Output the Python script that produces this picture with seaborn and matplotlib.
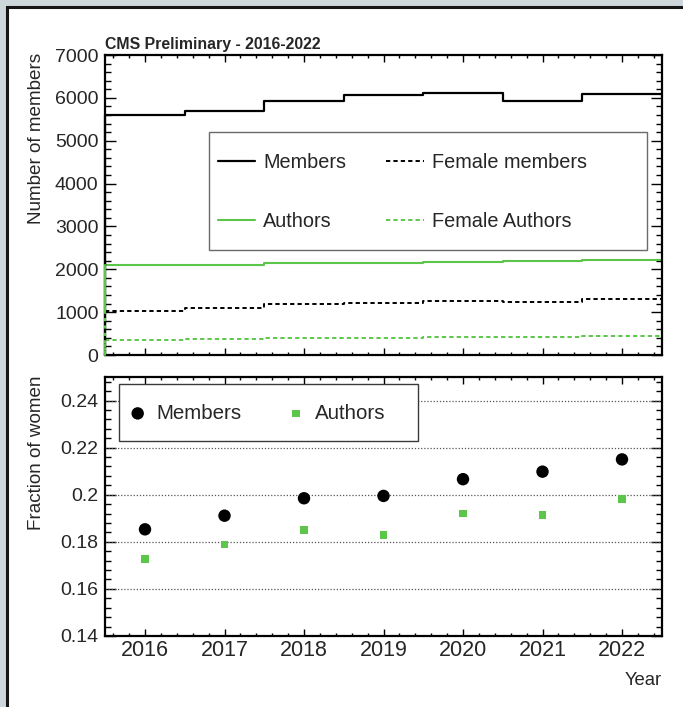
import matplotlib
matplotlib.use("Agg")
import matplotlib.pyplot as plt
import seaborn as sns
from matplotlib.patches import Rectangle
from matplotlib.ticker import MultipleLocator, FuncFormatter

# ---- data -------------------------------------------------------------
years = [2016, 2017, 2018, 2019, 2020, 2021, 2022]
year_edges = [2015.5, 2016.5, 2017.5, 2018.5, 2019.5, 2020.5, 2021.5, 2022.5]

members = [5600, 5700, 5930, 6070, 6120, 5930, 6080]
authors = [2100, 2090, 2140, 2140, 2165, 2190, 2215]
female_members = [1035, 1090, 1180, 1210, 1260, 1245, 1305]
female_authors = [360, 375, 395, 390, 415, 418, 440]

frac_members = [0.1853, 0.1911, 0.1985, 0.1995, 0.2066, 0.2098, 0.2150]
frac_authors = [0.1726, 0.1789, 0.1850, 0.1830, 0.1921, 0.1913, 0.1982]

year_labels = ["2016", "2017", "2018", "2019", "2020", "2021", "2022"]

# ---- style ------------------------------------------------------------
sns.set_style("ticks")
plt.rcParams["font.family"] = ["Liberation Sans", "DejaVu Sans"]

GREEN = "#5cc64b"
W, H, DPI = 683, 707, 100

fig = plt.figure(figsize=(W / DPI, H / DPI), dpi=DPI)
fig.patch.set_facecolor("#cdd6db")

# white slide panel behind the plot
fig.patches.append(Rectangle((7 / W, -0.05), 1.2, 1 - 7 / H + 0.05,
                             transform=fig.transFigure, facecolor="white",
                             edgecolor="#151515", lw=2.2, zorder=-10))


def fig_rect(l, t, r, b):
    return [l / W, 1 - b / H, (r - l) / W, (b - t) / H]


AX_L, AX_R = 105.25, 661.75
ax1 = fig.add_axes(fig_rect(AX_L, 55, AX_R, 355))
ax2 = fig.add_axes(fig_rect(AX_L, 377, AX_R, 636))


def to_axes(ax, top, bottom, px, py):
    return (px - AX_L) / (AX_R - AX_L), (bottom - py) / (bottom - top)


# ---- upper panel: yearly counts as step histograms -------------------
dash = (0, (2.2, 1.6))
series = [
    ("Members", members, "black", "-", 1.6),
    ("Authors", authors, GREEN, "-", 1.5),
    ("Female members", female_members, "black", dash, 1.4),
    ("Female Authors", female_authors, GREEN, dash, 1.4),
]
handles, labels = [], []
for name, vals, col, ls, lw in series:
    sns.histplot(x=years, weights=vals, bins=year_edges, element="step",
                 fill=False, color=col, linestyle=ls, linewidth=lw, ax=ax1)
    h = ax1.lines[-1]
    handles.append(h)
    labels.append(name)
    # leading edge of the first bin
    ax1.plot([year_edges[0], year_edges[0]], [0, vals[0]], color=col,
             linestyle=ls, linewidth=lw, zorder=3, clip_on=False)

ax1.set_xlim(year_edges[0], year_edges[-1])
ax1.set_ylim(0, 7000)
ax1.set_xlabel("")
ax1.set_ylabel("")
ax1.yaxis.set_major_locator(MultipleLocator(1000))
ax1.yaxis.set_minor_locator(MultipleLocator(200))
ax1.set_xticks(years)
ax1.xaxis.set_minor_locator(MultipleLocator(0.2))
ax1.tick_params(axis="x", labelbottom=False)

# legend box
lx0, ly0 = to_axes(ax1, 55, 355, 209, 250)
lx1, ly1 = to_axes(ax1, 55, 355, 647, 132)
ax1.add_patch(Rectangle((lx0, ly0), lx1 - lx0, ly1 - ly0, transform=ax1.transAxes,
                        facecolor="white", edgecolor="#6a6a6a", lw=1.0, zorder=4))
anc = to_axes(ax1, 55, 355, 217.7, 192.3)
leg1 = ax1.legend(handles, labels, loc="center left", bbox_to_anchor=anc,
                  ncol=2, frameon=False, borderpad=0, borderaxespad=0,
                  handlelength=1.9, handletextpad=0.4, columnspacing=2.0,
                  labelspacing=2.0, fontsize=14.3)
leg1.set_zorder(5)

# ---- lower panel: fraction of women ----------------------------------
ax2.set_axisbelow(True)
sns.scatterplot(x=years, y=frac_members, color="black", marker="o", s=80,
                edgecolor="none", linewidth=0, label="Members", ax=ax2, zorder=3)
sns.scatterplot(x=years, y=frac_authors, color=GREEN, marker="s", s=30,
                edgecolor="none", linewidth=0, label="Authors", ax=ax2, zorder=3)
ax2.set_xlim(year_edges[0], year_edges[-1])
ax2.set_ylim(0.14, 0.25)
ax2.set_xticks(years, year_labels)
ax2.xaxis.set_minor_locator(MultipleLocator(0.2))
ax2.yaxis.set_major_locator(MultipleLocator(0.02))
ax2.yaxis.set_minor_locator(MultipleLocator(0.004))
ax2.yaxis.set_major_formatter(FuncFormatter(lambda v, p: f"{v:g}"))
ax2.set_xlabel("")
ax2.set_ylabel("")
for gy in [0.16, 0.18, 0.20, 0.22, 0.24]:
    ax2.axhline(gy, color="#555555", lw=0.9, linestyle=(0, (1, 1.5)), zorder=1)

bx0, by0 = to_axes(ax2, 377, 636, 119, 441)
bx1, by1 = to_axes(ax2, 377, 636, 418, 384)
ax2.add_patch(Rectangle((bx0, by0), bx1 - bx0, by1 - by0, transform=ax2.transAxes,
                        facecolor="white", edgecolor="#3a3a3a", lw=1.0, zorder=4))
h2, l2 = ax2.get_legend_handles_labels()
anc2 = to_axes(ax2, 377, 636, 127.4, 413.3)
leg2 = ax2.legend(h2, l2, loc="center left", bbox_to_anchor=anc2, ncol=2,
                  frameon=False, borderpad=0, borderaxespad=0, handlelength=1.0,
                  handletextpad=0.42, columnspacing=2.14, fontsize=14.8,
                  scatterpoints=1)
leg2.set_zorder(5)

# ---- axes cosmetics ----------------------------------------------------
for ax in (ax1, ax2):
    for sp in ax.spines.values():
        sp.set_visible(True)
        sp.set_linewidth(1.6)
        sp.set_color("black")
    ax.tick_params(which="both", direction="in", top=True, right=True,
                   color="black", width=1.0)
    ax.tick_params(axis="y", which="major", length=8, labelsize=14, pad=4.8)
    ax.tick_params(axis="y", which="minor", length=4)
    ax.tick_params(axis="x", which="major", length=4.7, labelsize=15.5, pad=3)
    ax.tick_params(axis="x", which="minor", length=2.5)

# ---- text --------------------------------------------------------------
fig.text(105 / W, 1 - 48.5 / H, "CMS Preliminary - 2016-2022", fontsize=11.4,
         fontweight="bold", ha="left", va="baseline")
fig.text(37 / W, 1 - 53 / H, "Number of members", rotation=90, fontsize=13.6,
         ha="center", va="top")
fig.text(37 / W, 1 - 376 / H, "Fraction of women", rotation=90, fontsize=13.6,
         ha="center", va="top")
fig.text(661.7 / W, 1 - 685 / H, "Year", fontsize=13.3, ha="right", va="baseline")

fig.savefig("out.png", dpi=DPI, facecolor=fig.get_facecolor())
